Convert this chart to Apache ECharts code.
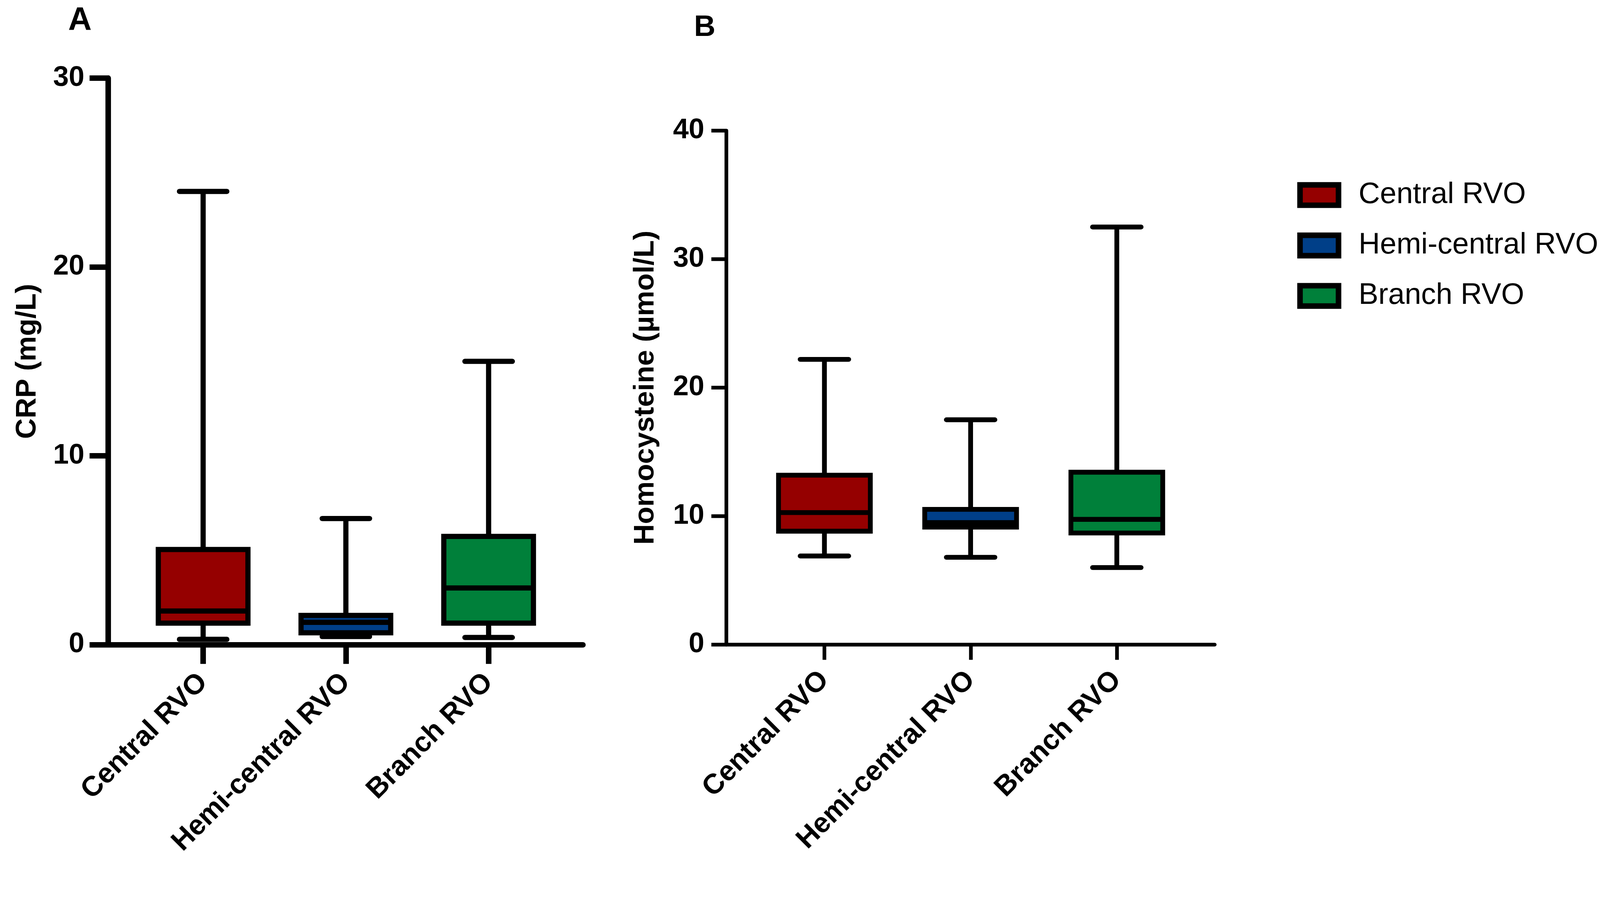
<!DOCTYPE html>
<html>
<head>
<meta charset="utf-8">
<script src="https://cdn.jsdelivr.net/npm/echarts@6/dist/echarts.min.js"></script>
<style>
html,body{margin:0;padding:0;background:#fff;overflow:hidden;}
#chart{position:absolute;left:0;top:0;}
</style>
</head>
<body>
<div id="chart"></div>
<script>
// ---- data ----
const categories = ['Central RVO', 'Hemi-central RVO', 'Branch RVO'];

// Panel A: CRP (mg/L)
const crpMin    = [0.28, 0.43, 0.38];
const crpQ1     = [1.14, 0.63, 1.14];
const crpMedian = [1.78, 1.18, 3.00];
const crpQ3     = [5.04, 1.55, 5.73];
const crpMax    = [24.0, 6.68, 15.0];
const crpTicks  = [0, 10, 20, 30];

// Panel B: Homocysteine (µmol/L)
const hcyMin    = [6.90, 6.80, 6.00];
const hcyQ1     = [8.83, 9.15, 8.69];
const hcyMedian = [10.28, 9.50, 9.75];
const hcyQ3     = [13.19, 10.53, 13.42];
const hcyMax    = [22.2, 17.5, 32.5];
const hcyTicks  = [0, 10, 20, 30, 40];

const colors = ['#950000', '#003F88', '#00803A'];
const FONT = "'Liberation Sans', Arial, Helvetica, sans-serif";

// scale design pixels (4323 x 2335) to the actual viewport
const VW = window.innerWidth || 4323;
const VH = window.innerHeight || 2335;
const S = Math.min(VW / 4323, VH / 2335);
const px = v => v * S;

const el = document.getElementById('chart');
el.style.width = VW + 'px';
el.style.height = VH + 'px';

function makeRender(lw) {
  return function (params, api) {
    const idx = api.value(0);
    const pMin = api.coord([idx, api.value(1)]);
    const pQ1 = api.coord([idx, api.value(2)]);
    const pMed = api.coord([idx, api.value(3)]);
    const pQ3 = api.coord([idx, api.value(4)]);
    const pMax = api.coord([idx, api.value(5)]);
    const band = api.size([1, 0], [idx, 0])[0];
    const half = band * 0.314;
    const cap = band * 0.166;
    const cx = pMed[0];
    const color = api.visual('color');
    const line = (x1, y1, x2, y2, round) => ({
      type: 'line',
      shape: { x1, y1, x2, y2 },
      style: { stroke: '#000', lineWidth: lw, lineCap: round ? 'round' : 'butt' }
    });
    return {
      type: 'group',
      children: [
        line(cx, pMax[1], cx, pQ3[1]),
        line(cx, pQ1[1], cx, pMin[1]),
        line(cx - cap, pMax[1], cx + cap, pMax[1], true),
        line(cx - cap, pMin[1], cx + cap, pMin[1], true),
        {
          type: 'rect',
          shape: { x: cx - half, y: pQ3[1], width: 2 * half, height: pQ1[1] - pQ3[1] },
          style: { fill: color, stroke: '#000', lineWidth: lw }
        },
        line(cx - half, pMed[1], cx + half, pMed[1])
      ]
    };
  };
}

function panelSeries(minA, q1A, medA, q3A, maxA, xi, yi, lw) {
  return categories.map((name, i) => ({
    type: 'custom',
    name: name,
    coordinateSystem: 'cartesian2d',
    xAxisIndex: xi,
    yAxisIndex: yi,
    itemStyle: { color: colors[i] },
    encode: { x: 0, y: [1, 2, 3, 4, 5] },
    renderItem: makeRender(lw),
    data: [[i, minA[i], q1A[i], medA[i], q3A[i], maxA[i]]],
    silent: true
  }));
}

const boldLabel = () => ({ fontFamily: FONT, fontWeight: 'bold', fontSize: px(76), color: '#000' });

const option = {
  animation: false,
  backgroundColor: '#fff',
  grid: [
    { left: px(292), top: px(211), width: px(1283), height: px(1531), outerBoundsMode: 'none' },
    { left: px(356), top: px(211), width: px(1157), height: px(1531), outerBoundsMode: 'none' },
    { left: px(1962), top: px(353), width: px(1320), height: px(1389), outerBoundsMode: 'none' },
    { left: px(2030), top: px(353), width: px(1185), height: px(1389), outerBoundsMode: 'none' }
  ],
  xAxis: [
    { gridIndex: 0, type: 'value', min: 0, max: 1,
      axisLine: { show: true, lineStyle: { color: '#000', width: px(15) } },
      axisTick: { show: false }, axisLabel: { show: false }, splitLine: { show: false } },
    { gridIndex: 1, type: 'category', data: categories,
      axisLine: { show: false },
      axisTick: { show: true, alignWithLabel: true, length: px(52), lineStyle: { color: '#000', width: px(15) } },
      axisLabel: Object.assign({ rotate: 45, interval: 0, margin: px(90) }, boldLabel()),
      splitLine: { show: false } },
    { gridIndex: 2, type: 'value', min: 0, max: 1,
      axisLine: { show: true, lineStyle: { color: '#000', width: px(10) } },
      axisTick: { show: false }, axisLabel: { show: false }, splitLine: { show: false } },
    { gridIndex: 3, type: 'category', data: categories,
      axisLine: { show: false },
      axisTick: { show: true, alignWithLabel: true, length: px(41), lineStyle: { color: '#000', width: px(10) } },
      axisLabel: Object.assign({ rotate: 45, interval: 0, margin: px(84) }, boldLabel()),
      splitLine: { show: false } }
  ],
  yAxis: [
    { gridIndex: 0, type: 'value', min: crpTicks[0], max: crpTicks[crpTicks.length - 1], interval: crpTicks[1] - crpTicks[0],
      name: 'CRP (mg/L)', nameLocation: 'middle', nameGap: px(179),
      nameTextStyle: { fontFamily: FONT, fontWeight: 'bold', fontSize: px(77), color: '#000' },
      axisLine: { show: true, lineStyle: { color: '#000', width: px(15) } },
      axisTick: { show: true, length: px(50), lineStyle: { color: '#000', width: px(15) } },
      axisLabel: Object.assign({ margin: px(64) }, boldLabel()),
      splitLine: { show: false } },
    { gridIndex: 1, type: 'value', min: crpTicks[0], max: crpTicks[crpTicks.length - 1], show: false, splitLine: { show: false } },
    { gridIndex: 2, type: 'value', min: hcyTicks[0], max: hcyTicks[hcyTicks.length - 1], interval: hcyTicks[1] - hcyTicks[0],
      name: 'Homocysteine (µmol/L)', nameLocation: 'middle', nameGap: px(179),
      nameTextStyle: { fontFamily: FONT, fontWeight: 'bold', fontSize: px(77), color: '#000' },
      axisLine: { show: true, lineStyle: { color: '#000', width: px(10) } },
      axisTick: { show: true, length: px(40), lineStyle: { color: '#000', width: px(10) } },
      axisLabel: Object.assign({ margin: px(59) }, boldLabel()),
      splitLine: { show: false } },
    { gridIndex: 3, type: 'value', min: hcyTicks[0], max: hcyTicks[hcyTicks.length - 1], show: false, splitLine: { show: false } }
  ],
  legend: {
    data: categories,
    orient: 'vertical',
    left: px(3505),
    top: px(487),
    padding: 0,
    icon: 'rect',
    itemWidth: px(104),
    itemHeight: px(55),
    itemGap: px(56),
    itemStyle: { borderColor: '#000', borderWidth: px(15) },
    selectedMode: false,
    textStyle: { fontFamily: FONT, fontSize: px(80), color: '#000', padding: [0, 0, 0, px(49)] }
  },
  graphic: [
    { type: 'text', x: px(216), y: px(57),
      style: { text: 'A', fontFamily: FONT, fontWeight: 'bold', fontSize: px(88), fill: '#000', align: 'center', verticalAlign: 'middle' } },
    { type: 'text', x: px(1904), y: px(75),
      style: { text: 'B', fontFamily: FONT, fontWeight: 'bold', fontSize: px(80), fill: '#000', align: 'center', verticalAlign: 'middle' } }
  ],
  series: [].concat(
    panelSeries(crpMin, crpQ1, crpMedian, crpQ3, crpMax, 1, 1, px(14)),
    panelSeries(hcyMin, hcyQ1, hcyMedian, hcyQ3, hcyMax, 3, 3, px(13))
  )
};

const chart = echarts.init(el, null, { renderer: 'canvas' });
chart.setOption(option);
</script>
</body>
</html>
